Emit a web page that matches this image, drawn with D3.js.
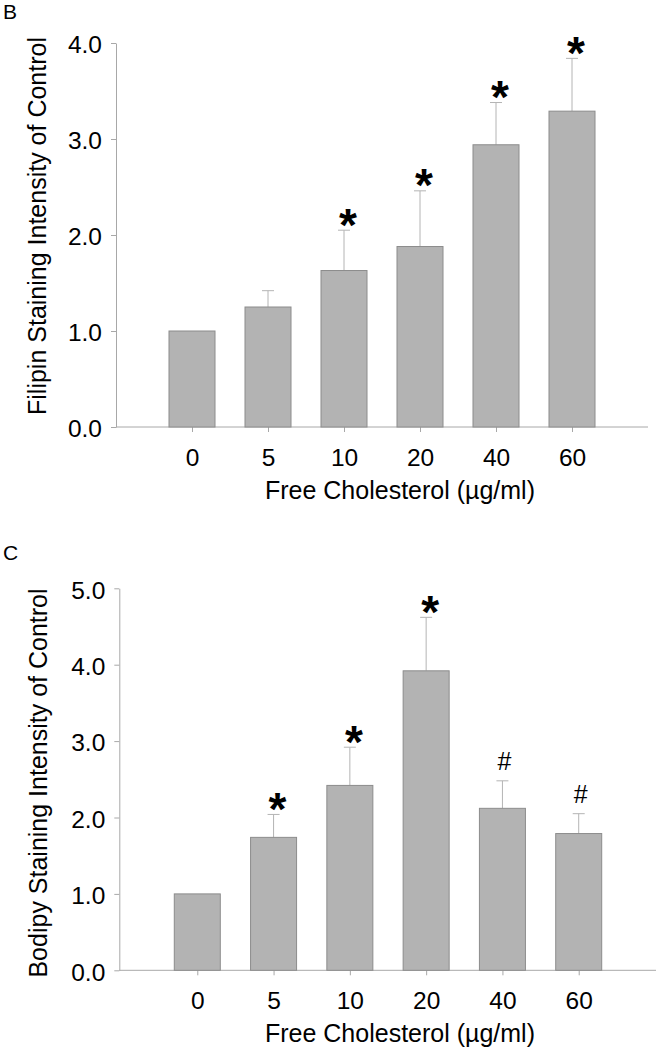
<!DOCTYPE html>
<html>
<head>
<meta charset="utf-8">
<script src="https://cdn.jsdelivr.net/npm/d3@7"></script>
<style>
  html, body { margin: 0; padding: 0; background: #fff; }
  svg { display: block; }
  text { font-family: "Liberation Sans", Arial, sans-serif; }
</style>
</head>
<body>
<svg id="chart" width="656" height="1048"></svg>
<script>
// ---- data ----
const doses = ["0", "5", "10", "20", "40", "60"];

const filipinMean = [1.00, 1.25, 1.63, 1.88, 2.94, 3.29];
const filipinErr  = [0.00, 0.17, 0.42, 0.58, 0.44, 0.55];
const filipinMarks = ["", "", "*", "*", "*", "*"];
const filipinTicks = [0, 1, 2, 3, 4];

const bodipyMean = [1.00, 1.74, 2.42, 3.92, 2.12, 1.79];
const bodipyErr  = [0.00, 0.30, 0.50, 0.70, 0.36, 0.26];
const bodipyMarks = ["", "*", "*", "*", "#", "#"];
const bodipyTicks = [0, 1, 2, 3, 4, 5];

const xTitle = "Free Cholesterol (\u00b5g/ml)";

const svg = d3.select("#chart");
const AXIS = "#a8a8a8";

function panel(o) {
  const g = svg.append("g");
  const y = d3.scaleLinear().domain([0, o.ymax]).range([o.y0, o.y1]);
  const x = d3.scalePoint().domain(doses).range([o.xr0, o.xr1]).padding(1);

  // y axis
  const ya = g.append("g").attr("transform", `translate(${o.ax},0)`)
    .call(d3.axisLeft(y).tickValues(o.ticks).tickFormat(d3.format(".1f")).tickSize(5).tickPadding(9).tickSizeOuter(0));
  ya.select(".domain").attr("stroke", AXIS);
  ya.selectAll(".tick line").attr("stroke", AXIS);
  ya.selectAll(".tick text").attr("font-size", 24.5).attr("fill", "#000").attr("dy", "0.4em")
    .style("font-family", "'Liberation Sans', Arial, sans-serif");

  // x axis
  const xa = g.append("g").attr("transform", `translate(0,${o.y0})`)
    .call(d3.axisBottom(x).tickSize(5).tickPadding(o.xpad).tickSizeOuter(0));
  xa.select(".domain").remove();
  xa.selectAll(".tick line").attr("stroke", AXIS);
  xa.selectAll(".tick text").attr("font-size", 24.5).attr("fill", "#000")
    .style("font-family", "'Liberation Sans', Arial, sans-serif");
  g.append("line").attr("x1", o.ax).attr("x2", o.xend).attr("y1", y(0)).attr("y2", y(0))
    .attr("stroke", AXIS).attr("stroke-width", 1);

  const bw = 46;
  const data = doses.map((d, i) => ({ d, m: o.mean[i], e: o.err[i], mk: o.marks[i] }));

  // error bars (upper only)
  const eb = g.selectAll(".eb").data(data.filter(d => d.e > 0)).join("g");
  eb.append("line").attr("x1", d => x(d.d)).attr("x2", d => x(d.d))
    .attr("y1", d => y(d.m)).attr("y2", d => y(d.m + d.e))
    .attr("stroke", "#b4b4b4").attr("stroke-width", 1);
  eb.append("line").attr("x1", d => x(d.d) - 6).attr("x2", d => x(d.d) + 6)
    .attr("y1", d => y(d.m + d.e)).attr("y2", d => y(d.m + d.e))
    .attr("stroke", "#b4b4b4").attr("stroke-width", 1);

  // bars
  g.selectAll(".bar").data(data).join("rect")
    .attr("x", d => x(d.d) - bw / 2).attr("width", bw)
    .attr("y", d => y(d.m)).attr("height", d => y(0) - y(d.m))
    .attr("fill", "#b3b3b3").attr("stroke", "#8c8c8c").attr("stroke-width", 1);

  // significance marks
  g.selectAll(".mk").data(data.filter(d => d.mk)).join("text")
    .attr("x", d => x(d.d) + (d.mk === "*" ? 4 : 2))
    .attr("y", d => y(d.m + d.e) + (d.mk === "*" ? 10.5 : -10.5))
    .attr("text-anchor", "middle")
    .attr("font-size", d => d.mk === "*" ? 46 : 25)
    .attr("font-weight", d => d.mk === "*" ? "bold" : "normal")
    .text(d => d.mk);

  // titles
  g.append("text").attr("x", 400).attr("y", o.y0 + 72).attr("text-anchor", "middle")
    .attr("font-size", 25).text(xTitle);
  g.append("text").attr("transform", `translate(${o.lx},${o.lc}) rotate(-90)`)
    .attr("text-anchor", "middle").attr("font-size", 25).text(o.ylabel);
  g.append("text").attr("x", 3).attr("y", o.py).attr("font-size", 21).text(o.panel);
}

panel({
  mean: filipinMean, err: filipinErr, marks: filipinMarks, ticks: filipinTicks, ymax: 4,
  y0: 427, y1: 43, ax: 116, xr0: 116, xr1: 648, xend: 648, xpad: 17,
  ylabel: "Filipin Staining Intensity of Control", lx: 45.5, lc: 226, panel: "B", py: 19
});

panel({
  mean: bodipyMean, err: bodipyErr, marks: bodipyMarks, ticks: bodipyTicks, ymax: 5,
  y0: 970.3, y1: 588.3, ax: 119.3, xr0: 121, xr1: 655, xend: 656, xpad: 16,
  ylabel: "Bodipy Staining Intensity of Control", lx: 46.5, lc: 783, panel: "C", py: 560
});
</script>
</body>
</html>
